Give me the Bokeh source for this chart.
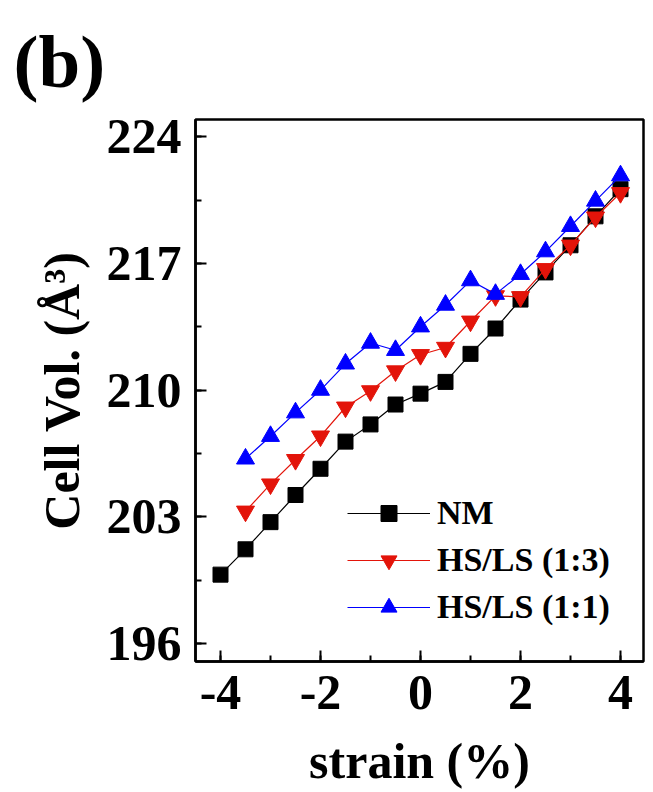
from bokeh.plotting import figure
from bokeh.models import Range1d, FixedTicker, Legend, LegendItem
from bokeh.embed import file_html
from bokeh.resources import INLINE

strain = [-4.0, -3.5, -3.0, -2.5, -2.0, -1.5, -1.0, -0.5, 0.0, 0.5, 1.0, 1.5, 2.0, 2.5, 3.0, 3.5, 4.0]
strain_hs = [-3.5, -3.0, -2.5, -2.0, -1.5, -1.0, -0.5, 0.0, 0.5, 1.0, 1.5, 2.0, 2.5, 3.0, 3.5, 4.0]
nm = [199.8, 201.2, 202.7, 204.2, 205.65, 207.15, 208.1, 209.2, 209.8, 210.45, 212.0, 213.4, 215.0, 216.5, 218.0, 219.6, 221.1]
hs13 = [203.3, 204.8, 206.15, 207.45, 209.05, 209.95, 211.05, 211.95, 212.35, 213.8, 215.2, 215.15, 216.7, 218.0, 219.55, 220.9]
hs11 = [206.2, 207.45, 208.75, 210.0, 211.45, 212.6, 212.2, 213.5, 214.7, 216.05, 215.3, 216.4, 217.65, 219.05, 220.45, 221.85]
x_ticks = [-4, -2, 0, 2, 4]
x_tick_labels = ["-4", "-2", "0", "2", "4"]
y_ticks = [196, 203, 210, 217, 224]
labels = ["NM", "HS/LS (1:3)", "HS/LS (1:1)"]

FONT = "Liberation Serif"
RED = "#E3140A"
BLUE = "#0000FF"

p = figure(width=653, height=792, output_backend="svg", toolbar_location=None,
           x_range=Range1d(-4.5, 4.46), y_range=Range1d(195.0, 224.95),
           min_border_left=195, min_border_right=10, min_border_top=119, min_border_bottom=131)
p.grid.visible = False
p.outline_line_color = "black"
p.outline_line_width = 2.5
p.background_fill_color = "white"
p.border_fill_color = "white"

p.title.text = "(b)"
p.title.align = "left"
p.title.vertical_align = "top"
p.title.offset = -182
p.title.standoff = 30
p.title.text_font = FONT
p.title.text_font_style = "bold"
p.title.text_font_size = "75px"
p.title.text_color = "black"

for ax in (p.xaxis[0], p.yaxis[0]):
    ax.axis_line_width = 2.5
    ax.major_tick_line_width = 2
    ax.minor_tick_line_width = 2
    ax.major_tick_in = 11
    ax.major_tick_out = 0
    ax.minor_tick_in = 6
    ax.minor_tick_out = 0
    ax.major_label_text_font = FONT
    ax.major_label_text_font_style = "bold"
    ax.major_label_text_font_size = "50px"
    ax.major_label_text_color = "black"
    ax.axis_label_text_font = FONT
    ax.axis_label_text_font_style = "bold"
    ax.axis_label_text_font_size = "50px"
    ax.axis_label_text_color = "black"

p.xaxis.ticker = FixedTicker(ticks=x_ticks, minor_ticks=[-4, -3, -2, -1, 0, 1, 2, 3, 4])
p.xaxis.major_label_overrides = {t: s for t, s in zip(x_ticks, x_tick_labels)}
p.yaxis.ticker = FixedTicker(ticks=y_ticks, minor_ticks=[196, 199.5, 203, 206.5, 210, 213.5, 217, 220.5, 224])
p.xaxis.axis_label = "strain (%)"
p.yaxis.axis_label = "Cell Vol. (Å³)"
p.xaxis.major_label_standoff = 14
p.xaxis.axis_label_standoff = 21
p.yaxis.major_label_standoff = 14
p.yaxis.axis_label_standoff = 14

l1 = p.line(strain, nm, line_color="black", line_width=1.2)
s1 = p.scatter(strain, nm, marker="square", size=15, fill_color="black", line_color="black")
l2 = p.line(strain_hs, hs13, line_color=RED, line_width=1.2)
s2 = p.scatter(strain_hs, hs13, marker="inverted_triangle", size=18, fill_color=RED, line_color=RED)
l3 = p.line(strain_hs, hs11, line_color=BLUE, line_width=1.2)
s3 = p.scatter(strain_hs, hs11, marker="triangle", size=18, fill_color=BLUE, line_color=BLUE)

legend = Legend(items=[LegendItem(label=labels[0], renderers=[l1, s1]),
                       LegendItem(label=labels[1], renderers=[l2, s2]),
                       LegendItem(label=labels[2], renderers=[l3, s3])],
                location=(152, 34), padding=0, margin=0, spacing=7,
                glyph_width=83, glyph_height=40, label_height=40, label_standoff=7,
                border_line_alpha=0, background_fill_alpha=0,
                label_text_font=FONT, label_text_font_style="bold",
                label_text_font_size="34px", label_text_color="black")
p.add_layout(legend, "center")

open("out.html", "w").write(file_html(p, INLINE))
